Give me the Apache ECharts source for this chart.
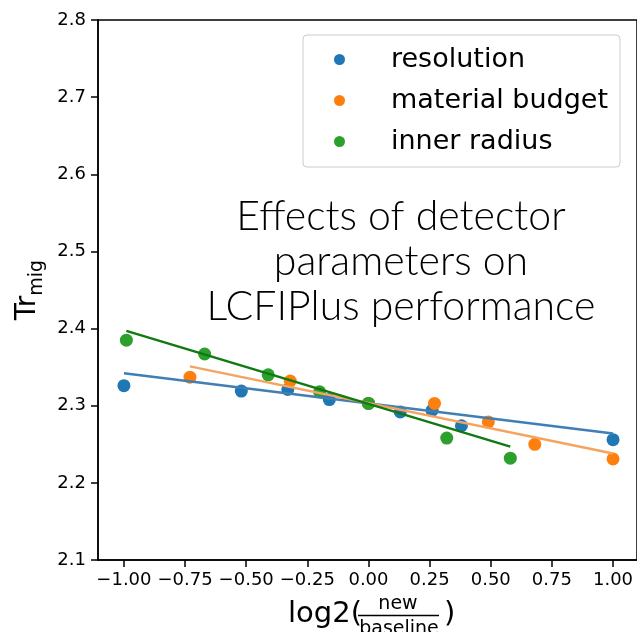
<!DOCTYPE html>
<html>
<head>
<meta charset="utf-8">
<script src="https://cdn.jsdelivr.net/npm/echarts@6/dist/echarts.min.js"></script>
<style>
  html, body { margin: 0; padding: 0; background: #fff; }
  #chart { width: 637px; height: 632px; }
</style>
</head>
<body>
<div id="chart"></div>
<script>
    // points: log2(new/baseline) vs Tr_mig
    const resX = [-1.0, -0.52, -0.33, -0.16, 0, 0.13, 0.26, 0.38, 1.0];
    const resY = [2.326, 2.319, 2.321, 2.308, 2.303, 2.292, 2.294, 2.274, 2.256];
    const matX = [-0.73, -0.32, 0, 0.27, 0.49, 0.68, 1.0];
    const matY = [2.337, 2.332, 2.303, 2.303, 2.279, 2.250, 2.231];
    const innerX = [-0.99, -0.67, -0.41, -0.20, 0, 0.32, 0.58];
    const innerY = [2.385, 2.367, 2.340, 2.318, 2.303, 2.258, 2.232];

    // fitted lines (end points)
    const resFitX = [-1.0, 1.0];
    const resFitY = [2.342, 2.264];
    const matFitX = [-0.73, 1.0];
    const matFitY = [2.351, 2.238];
    const innerFitX = [-0.99, 0.58];
    const innerFitY = [2.397, 2.247];

    const names = ['resolution', 'material budget', 'inner radius'];
    const xTicks = [-1.0, -0.75, -0.5, -0.25, 0, 0.25, 0.5, 0.75, 1.0];

    function pairs(xs, ys) {
        return xs.map((x, i) => [x, ys[i]]);
    }

    const font = 'DejaVu Sans';

    let chart = echarts.init(document.getElementById('chart'));

    chart.setOption({
        backgroundColor: '#fff',
        animation: false,
        textStyle: { fontFamily: font },
        grid: {
            left: 98,
            right: -3,
            top: 20,
            bottom: 72,
            show: true,
            borderColor: '#000',
            borderWidth: 1.5
        },
        legend: {
            data: names,
            orient: 'vertical',
            left: 303,
            top: 35,
            icon: 'circle',
            itemWidth: 11,
            itemHeight: 11,
            itemGap: 10,
            padding: [9, 12, 10, 31],
            backgroundColor: '#fff',
            borderColor: '#cccccc',
            borderWidth: 1,
            borderRadius: 4,
            textStyle: {
                fontFamily: font,
                fontSize: 27,
                lineHeight: 31,
                color: '#000',
                padding: [0, 0, 0, 41]
            }
        },
        xAxis: {
            type: 'value',
            min: -1.106,
            max: 1.098,
            splitLine: { show: false },
            axisLine: { onZero: false, lineStyle: { color: '#000', width: 1.5 } },
            axisTick: { customValues: xTicks, length: 7, lineStyle: { color: '#000', width: 1.5 } },
            axisLabel: {
                customValues: xTicks,
                fontSize: 18,
                color: '#000',
                margin: 11,
                formatter: v => (v < 0 ? '\u2212' : '') + Math.abs(v).toFixed(2)
            }
        },
        yAxis: {
            type: 'value',
            min: 2.1,
            max: 2.8,
            interval: 0.1,
            splitLine: { show: false },
            axisLine: { onZero: false, lineStyle: { color: '#000', width: 1.5 } },
            axisTick: { length: 7, lineStyle: { color: '#000', width: 1.5 } },
            axisLabel: {
                fontSize: 18,
                color: '#000',
                margin: 12,
                formatter: v => v.toFixed(1)
            },
            name: '{t|Tr}{s|mig}',
            nameLocation: 'middle',
            nameRotate: 90,
            nameGap: 45,
            nameTextStyle: {
                rich: {
                    t: { fontSize: 28, fontFamily: font, color: '#000', verticalAlign: 'bottom', padding: [0, 0, 5, 0] },
                    s: { fontSize: 19, fontFamily: font, color: '#000', verticalAlign: 'bottom' }
                }
            }
        },
        graphic: [
            {
                type: 'text',
                x: 401, y: 262,
                style: {
                    text: 'Effects of detector\nparameters on\nLCFIPlus performance',
                    align: 'center',
                    verticalAlign: 'middle',
                    fontFamily: 'Lato',
                    fontWeight: 300,
                    fontSize: 41,
                    lineHeight: 45,
                    fill: '#000'
                }
            },
            {
                type: 'text', x: 288, y: 614,
                style: { text: 'log2(', fontFamily: font, fontSize: 29, fill: '#000', verticalAlign: 'middle' }
            },
            {
                type: 'text', x: 398, y: 604,
                style: { text: 'new', fontFamily: font, fontSize: 19, fill: '#000', align: 'center', verticalAlign: 'middle' }
            },
            {
                type: 'line',
                shape: { x1: 358, y1: 615.5, x2: 439, y2: 615.5 },
                style: { stroke: '#000', lineWidth: 1.5 }
            },
            {
                type: 'text', x: 399, y: 629,
                style: { text: 'baseline', fontFamily: font, fontSize: 19, fill: '#000', align: 'center', verticalAlign: 'middle' }
            },
            {
                type: 'text', x: 444, y: 614,
                style: { text: ')', fontFamily: font, fontSize: 29, fill: '#000', verticalAlign: 'middle' }
            }
        ],
        series: [
            {
                name: names[0], type: 'scatter', symbolSize: 13,
                itemStyle: { color: '#1f77b4', opacity: 1 },
                data: pairs(resX, resY)
            },
            {
                name: 'resolution fit', type: 'line', symbol: 'none',
                lineStyle: { color: '#3f7fb5', width: 2.5 },
                data: pairs(resFitX, resFitY)
            },
            {
                name: names[1], type: 'scatter', symbolSize: 13,
                itemStyle: { color: '#ff7f0e', opacity: 1 },
                data: pairs(matX, matY)
            },
            {
                name: 'material budget fit', type: 'line', symbol: 'none',
                lineStyle: { color: '#f4a460', width: 2.5 },
                data: pairs(matFitX, matFitY)
            },
            {
                name: names[2], type: 'scatter', symbolSize: 13,
                itemStyle: { color: '#2ca02c', opacity: 1 },
                data: pairs(innerX, innerY)
            },
            {
                name: 'inner radius fit', type: 'line', symbol: 'none',
                lineStyle: { color: '#107a10', width: 2.5 },
                data: pairs(innerFitX, innerFitY)
            }
        ]
    });
</script>
</body>
</html>
